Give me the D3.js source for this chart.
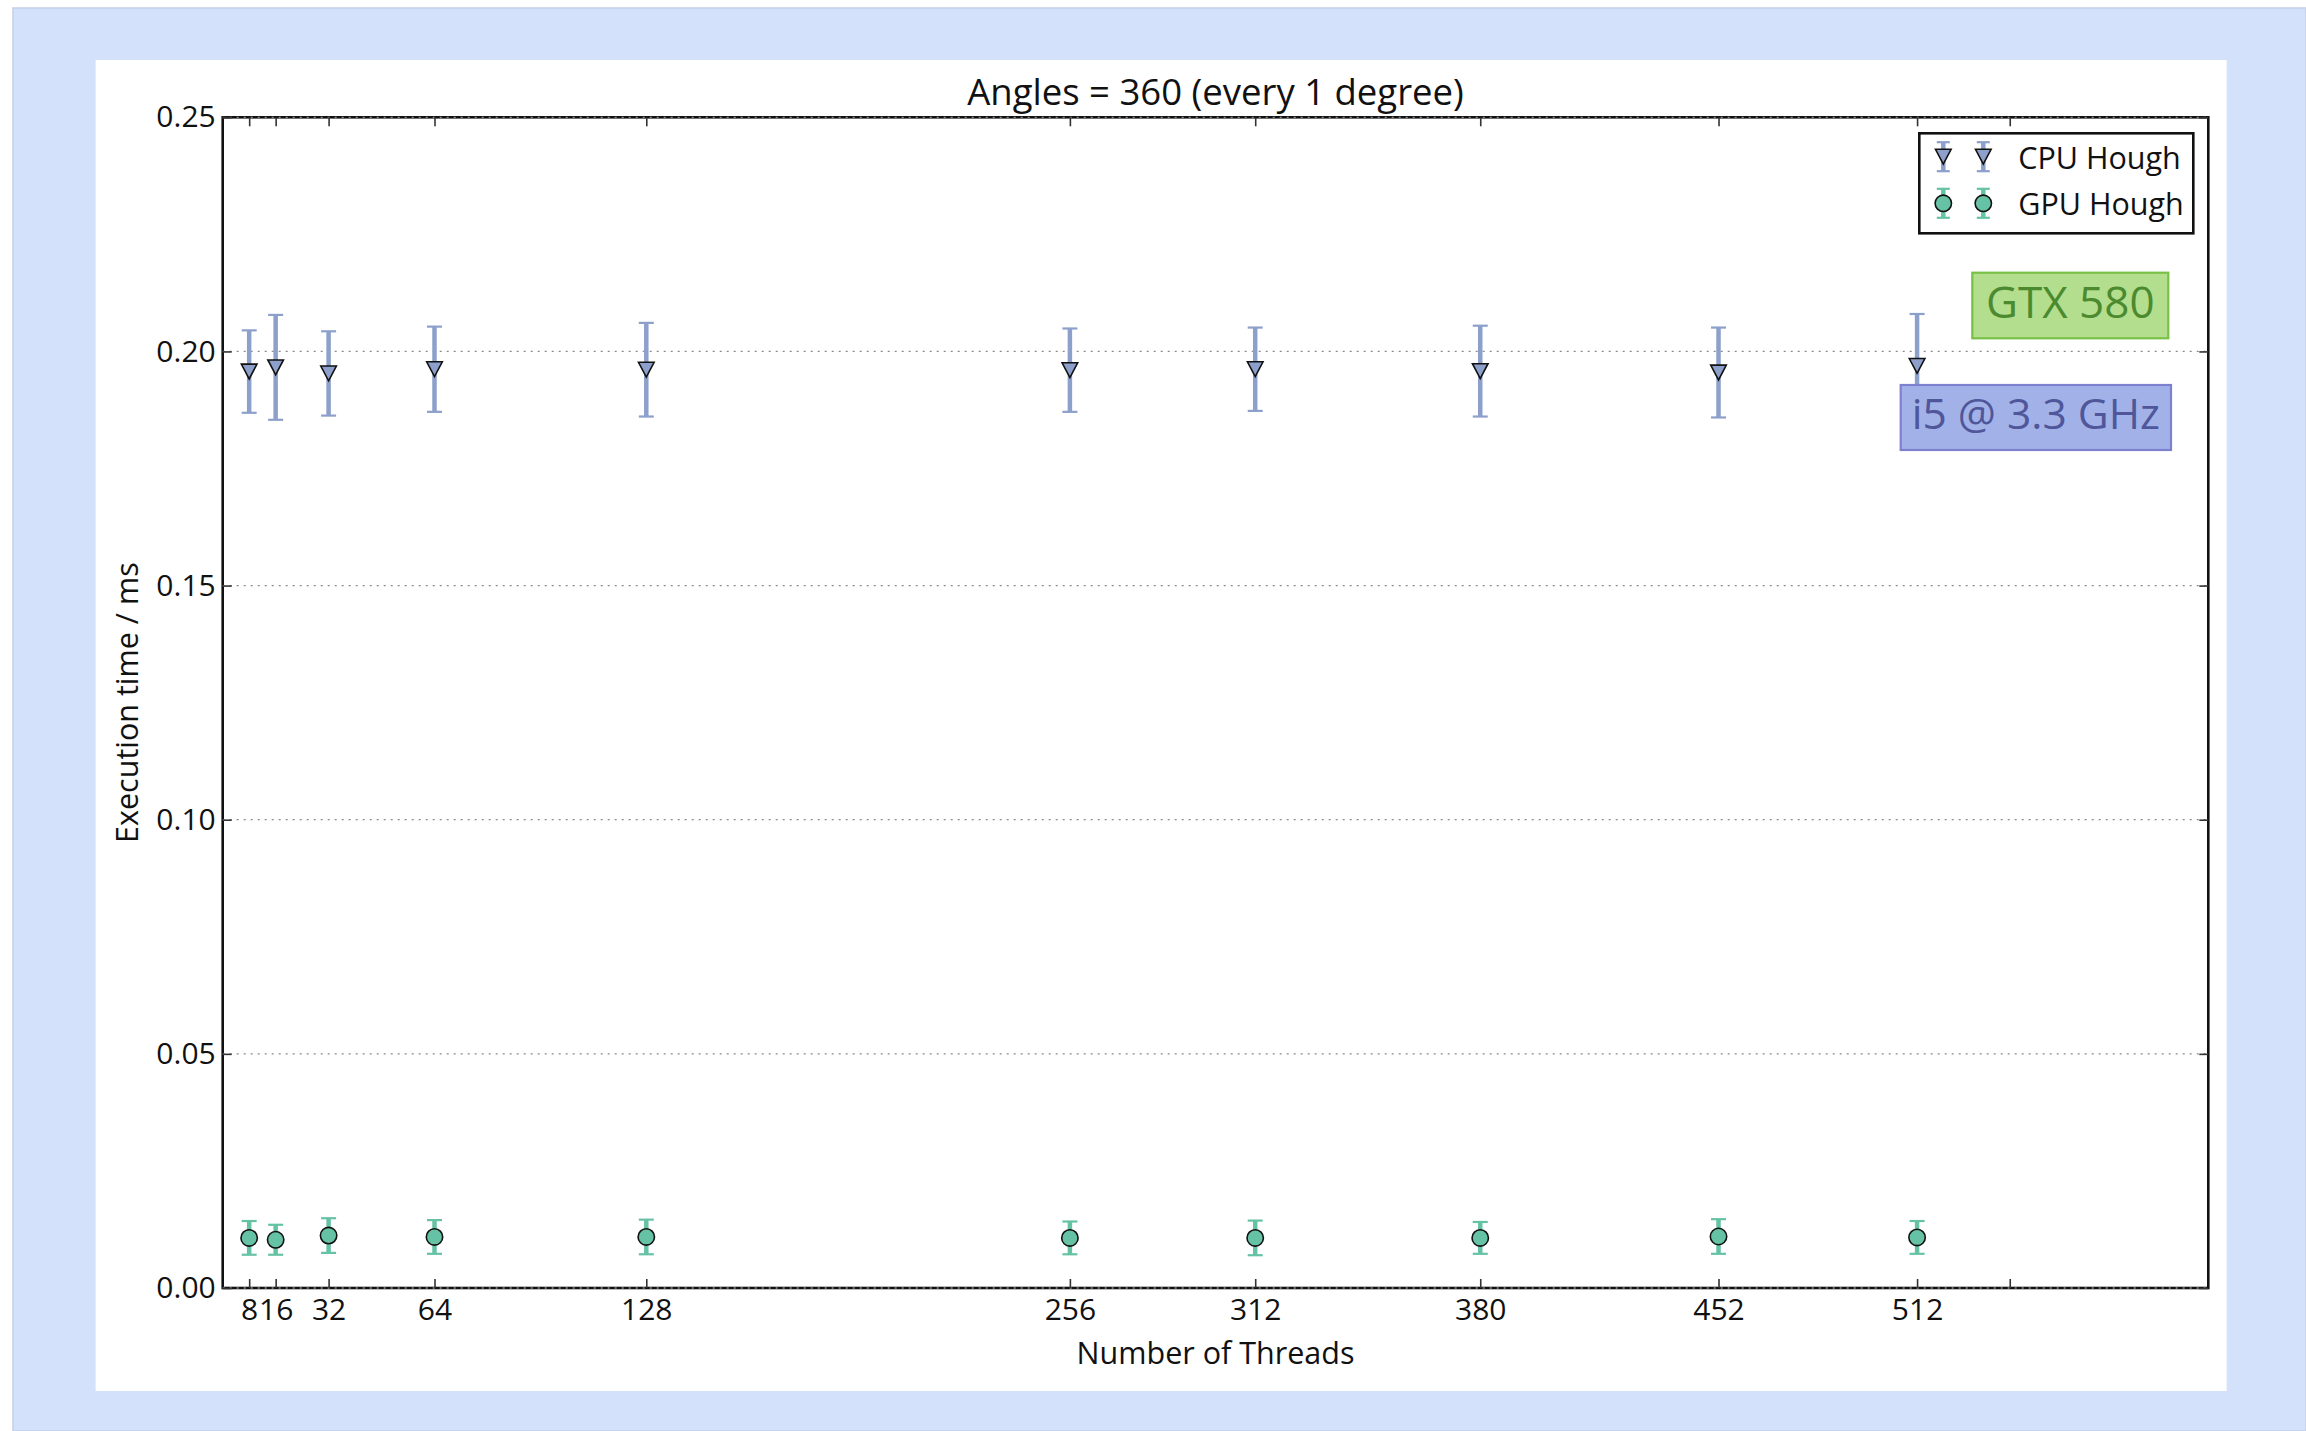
<!DOCTYPE html>
<html>
<head>
<meta charset="utf-8">
<script src="https://cdn.jsdelivr.net/npm/d3@7"></script>
<style>
  html, body { margin: 0; padding: 0; background: #ffffff; }
  svg { display: block; }
  text { font-family: "Open Sans", "DejaVu Sans", sans-serif; }
</style>
</head>
<body>
<svg id="chart" width="2306" height="1431"></svg>
<script>
// ---------------- data ----------------
const threads = [8, 16, 32, 64, 128, 256, 312, 380, 452, 512];
const cpuMean = [0.1957, 0.1966, 0.1953, 0.1962, 0.1961, 0.1960, 0.1962, 0.1958, 0.1955, 0.1969];
const cpuErr  = [0.0088, 0.0112, 0.0090, 0.0091, 0.0100, 0.0089, 0.0089, 0.0097, 0.0096, 0.0111];
const gpuMean = [0.0107, 0.0103, 0.0112, 0.0109, 0.0109, 0.0107, 0.0107, 0.0107, 0.0110, 0.0108];
const gpuErr  = [0.0036, 0.0032, 0.0037, 0.0036, 0.0037, 0.0035, 0.0037, 0.0034, 0.0037, 0.0035];
const xTicks = [8, 16, 32, 64, 128, 256, 312, 380, 452, 512, 540];
const xTickLabels = ["8", "16", "32", "64", "128", "256", "312", "380", "452", "512", ""];
const yTicks = [0.00, 0.05, 0.10, 0.15, 0.20, 0.25];
const seriesNames = ["CPU Hough", "GPU Hough"];
const titleText = "Angles = 360 (every 1 degree)";
const xLabel = "Number of Threads";
const yLabel = "Execution time / ms";
const notes = ["GTX 580", "i5 @ 3.3 GHz"];

// ---------------- layout ----------------
const W = 2306, H = 1431;
const plot = { left: 222.7, top: 117.3, right: 2208.3, bottom: 1288 };
const cpuColor = "#8da0cb", gpuColor = "#66c2a5";
const FS = 30;

const svg = d3.select("#chart");

// outer light-blue frame
svg.append("rect").attr("x", 13).attr("y", 8).attr("width", W - 13).attr("height", H - 8)
  .attr("fill", "#d4e1fb").attr("stroke", "#c3cfe6").attr("stroke-width", 1.5);
// white figure
svg.append("rect").attr("x", 95.6).attr("y", 60).attr("width", 2226.7 - 95.6).attr("height", 1391 - 60)
  .attr("fill", "#ffffff");

const x = d3.scaleLinear().domain([0, 600]).range([plot.left, plot.right]);
const y = d3.scaleLinear().domain([0, 0.25]).range([plot.bottom, plot.top]);

const g = svg.append("g");

// spines
g.append("rect").attr("x", plot.left).attr("y", plot.top)
  .attr("width", plot.right - plot.left).attr("height", plot.bottom - plot.top)
  .attr("fill", "none").attr("stroke", "#111").attr("stroke-width", 2.6);

// grid (dotted, drawn on top of spines)
g.append("g").selectAll("line").data(yTicks).join("line")
  .attr("x1", plot.left).attr("x2", plot.right)
  .attr("y1", d => y(d)).attr("y2", d => y(d))
  .attr("stroke", "#8a8a8a").attr("stroke-width", 1.3)
  .attr("stroke-dasharray", "2,5");

// axes with inward ticks
const tickLen = 9;
const xAxisB = d3.axisBottom(x).tickValues(xTicks).tickSize(-tickLen)
  .tickFormat((d, i) => xTickLabels[i]).tickPadding(11);
const xAxisT = d3.axisTop(x).tickValues(xTicks).tickSize(-tickLen).tickFormat("");
const yAxisL = d3.axisLeft(y).tickValues(yTicks).tickSize(-tickLen)
  .tickFormat(d3.format(".2f")).tickPadding(7);
const yAxisR = d3.axisRight(y).tickValues(yTicks).tickSize(-tickLen).tickFormat("");

function styleAxis(sel) {
  sel.select(".domain").remove();
  sel.selectAll(".tick line").attr("stroke", "#333").attr("stroke-width", 1.6);
  sel.selectAll(".tick text").attr("font-size", FS).attr("fill", "#111")
    .attr("font-family", "'Open Sans', sans-serif");
}
g.append("g").attr("transform", `translate(0,${plot.bottom})`).call(xAxisB).call(styleAxis);
g.append("g").attr("transform", `translate(0,${plot.top})`).call(xAxisT).call(styleAxis);
g.append("g").attr("transform", `translate(${plot.left},0)`).call(yAxisL).call(styleAxis);
g.append("g").attr("transform", `translate(${plot.right},0)`).call(yAxisR).call(styleAxis);

// error bars
function errorBars(means, errs, color) {
  const eg = g.append("g");
  const rows = threads.map((t, i) => ({ t, m: means[i], e: errs[i] }));
  eg.selectAll(".bar").data(rows).join("line")
    .attr("x1", d => x(d.t)).attr("x2", d => x(d.t))
    .attr("y1", d => y(d.m + d.e)).attr("y2", d => y(d.m - d.e))
    .attr("stroke", color).attr("stroke-width", 4.5);
  const caps = rows.flatMap(d => [d.m + d.e, d.m - d.e].map(v => ({ t: d.t, v })));
  eg.selectAll(".cap").data(caps).join("line")
    .attr("x1", d => x(d.t) - 7.5).attr("x2", d => x(d.t) + 7.5)
    .attr("y1", d => y(d.v)).attr("y2", d => y(d.v))
    .attr("stroke", color).attr("stroke-width", 2.2);
}
errorBars(cpuMean, cpuErr, cpuColor);
errorBars(gpuMean, gpuErr, gpuColor);

// markers
const triPath = (cx, cy, s) => `M${cx - s},${cy - s * 0.95}L${cx + s},${cy - s * 0.95}L${cx},${cy + s * 0.95}Z`;
g.append("g").selectAll("path").data(threads.map((t, i) => ({ t, m: cpuMean[i] }))).join("path")
  .attr("d", d => triPath(x(d.t), y(d.m), 7.8))
  .attr("fill", cpuColor).attr("stroke", "#111").attr("stroke-width", 1.6).attr("stroke-linejoin", "miter");
g.append("g").selectAll("circle").data(threads.map((t, i) => ({ t, m: gpuMean[i] }))).join("circle")
  .attr("cx", d => x(d.t)).attr("cy", d => y(d.m)).attr("r", 8.2)
  .attr("fill", gpuColor).attr("stroke", "#111").attr("stroke-width", 1.6);

// annotation boxes
function noteBox(label, x0, y0, x1, y1, fill, stroke, textColor, fs, dy) {
  svg.append("rect").attr("x", x0).attr("y", y0).attr("width", x1 - x0).attr("height", y1 - y0)
    .attr("fill", fill).attr("stroke", stroke).attr("stroke-width", 2.2);
  svg.append("text").attr("x", (x0 + x1) / 2).attr("y", (y0 + y1) / 2 + dy)
    .attr("text-anchor", "middle").attr("dominant-baseline", "central")
    .attr("font-size", fs).attr("fill", textColor).text(label);
}
noteBox(notes[0], 1972.3, 272.7, 2168.3, 338.3, "#b3de8d", "#78c046", "#4c8a2f", 44, -5);
noteBox(notes[1], 1900.7, 385, 2171, 450, "#a2b2e8", "#7c80cf", "#50569a", 42.5, -5);

// legend
const lg = svg.append("g");
lg.append("rect").attr("x", 1919.3).attr("y", 133.3).attr("width", 2193.3 - 1919.3).attr("height", 233.3 - 133.3)
  .attr("fill", "#fff").attr("stroke", "#111").attr("stroke-width", 2.6);
const legRows = [
  { name: seriesNames[0], color: cpuColor, shape: "tri", cy: 156.7 },
  { name: seriesNames[1], color: gpuColor, shape: "circ", cy: 203.3 }
];
legRows.forEach(r => {
  [1943.3, 1983.3].forEach(cx => {
    lg.append("line").attr("x1", cx).attr("x2", cx).attr("y1", r.cy - 14.5).attr("y2", r.cy + 14.5)
      .attr("stroke", r.color).attr("stroke-width", 4.5);
    [r.cy - 14.5, r.cy + 14.5].forEach(cy => lg.append("line")
      .attr("x1", cx - 6.5).attr("x2", cx + 6.5).attr("y1", cy).attr("y2", cy)
      .attr("stroke", r.color).attr("stroke-width", 2.2));
    if (r.shape === "tri") {
      lg.append("path").attr("d", triPath(cx, r.cy, 7.8)).attr("fill", r.color)
        .attr("stroke", "#111").attr("stroke-width", 1.6);
    } else {
      lg.append("circle").attr("cx", cx).attr("cy", r.cy).attr("r", 8.2).attr("fill", r.color)
        .attr("stroke", "#111").attr("stroke-width", 1.6);
    }
  });
  lg.append("text").attr("x", 2018.3).attr("y", r.cy).attr("dominant-baseline", "central")
    .attr("font-size", 30.5).attr("fill", "#111").text(r.name);
});

// title & labels
svg.append("text").attr("x", (plot.left + plot.right) / 2).attr("y", 105)
  .attr("text-anchor", "middle").attr("font-size", 36.5).attr("fill", "#111").text(titleText);
svg.append("text").attr("x", (plot.left + plot.right) / 2).attr("y", 1364)
  .attr("text-anchor", "middle").attr("font-size", 30.5).attr("fill", "#111").text(xLabel);
svg.append("text").attr("transform", `translate(126,${(plot.top + plot.bottom) / 2}) rotate(-90)`)
  .attr("text-anchor", "middle").attr("dominant-baseline", "central")
  .attr("font-size", 30.5).attr("fill", "#111").text(yLabel);
</script>
</body>
</html>
